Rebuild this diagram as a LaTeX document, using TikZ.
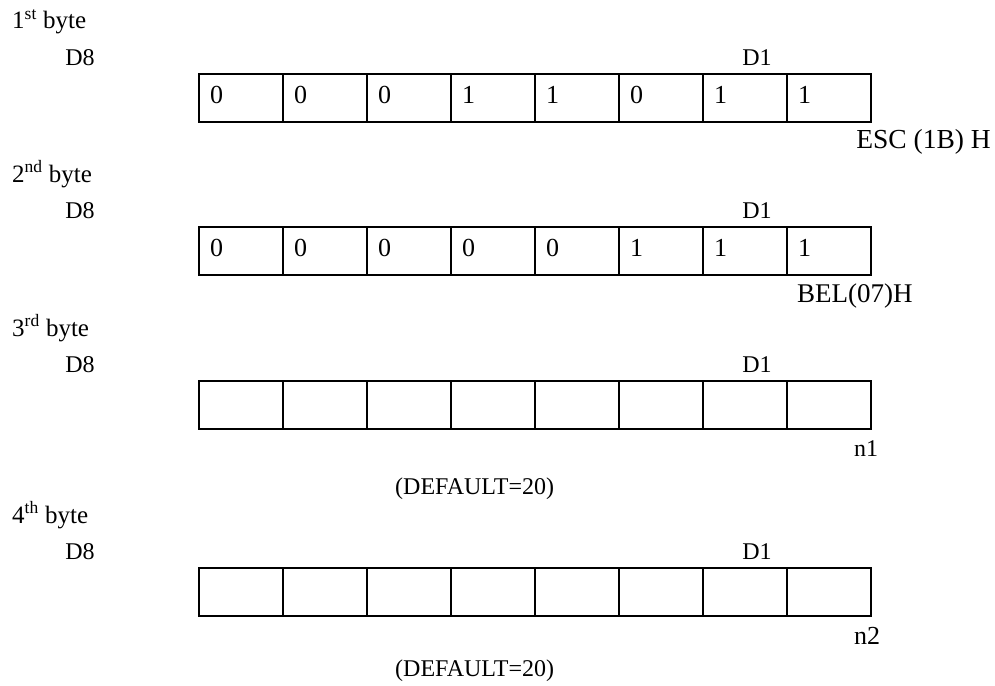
\documentclass[tikz,border=0pt]{standalone}
\usepackage{fontspec}
\setmainfont{Liberation Serif}
\usetikzlibrary{positioning}

\tikzset{
  cell/.style={draw,line width=1.6pt,minimum width=84pt,minimum height=48pt,inner sep=0pt,anchor=north west},
  bit/.style={inner sep=0pt,anchor=base west,font=\fontsize{26}{30}\selectfont},
  lbl/.style={inner sep=0pt,anchor=base,font=\fontsize{24}{28}\selectfont},
  lblw/.style={lbl,anchor=base west}
}

\begin{document}
\begin{tikzpicture}[x=1pt,y=-1pt]
\useasboundingbox (0,0) rectangle (995,685);
% the four bytes, D8 on the left, D1 on the right
\foreach \r/\yy/\nth in {1/73/st,2/226/nd,3/380/rd,4/567/th}{
  \node[lblw,font=\fontsize{25}{29}\selectfont] (byte\r) at (12,\yy-44) {\r\textsuperscript{\nth} byte};
  \node[lbl] (msb\r) at (80,\yy-8) {D8};
  \node[lbl] (lsb\r) at (757,\yy-8) {D1};
  \foreach \i in {1,...,8}
    \node[cell] (cell\r\i) at (198+84*\i-84,\yy) {};
}
% fixed bits of ESC and BEL
\foreach \b [count=\i] in {0,0,0,1,1,0,1,1}
  \node[bit] (bit1\i) at ([shift={(12pt,-5.5pt)}]cell1\i.west) {\b};
\foreach \b [count=\i] in {0,0,0,0,0,1,1,1}
  \node[bit] (bit2\i) at ([shift={(12pt,-5.5pt)}]cell2\i.west) {\b};
% names below the bytes
\node[lbl,anchor=base east,font=\fontsize{27.5}{32}\selectfont] (esc) at (991,148) {ESC (1B) H};
\node[lblw,font=\fontsize{27}{31}\selectfont] (bel) at (797,302) {BEL(07)H};
\node[lblw] (n1) at (854,456) {n1};
\node[lblw,font=\fontsize{26}{30}\selectfont] (n2) at (854,644) {n2};
\node[lblw] (def1) at (395,494) {(DEFAULT=20)};
\node[lblw] (def2) at (395,676) {(DEFAULT=20)};
\end{tikzpicture}
\end{document}
